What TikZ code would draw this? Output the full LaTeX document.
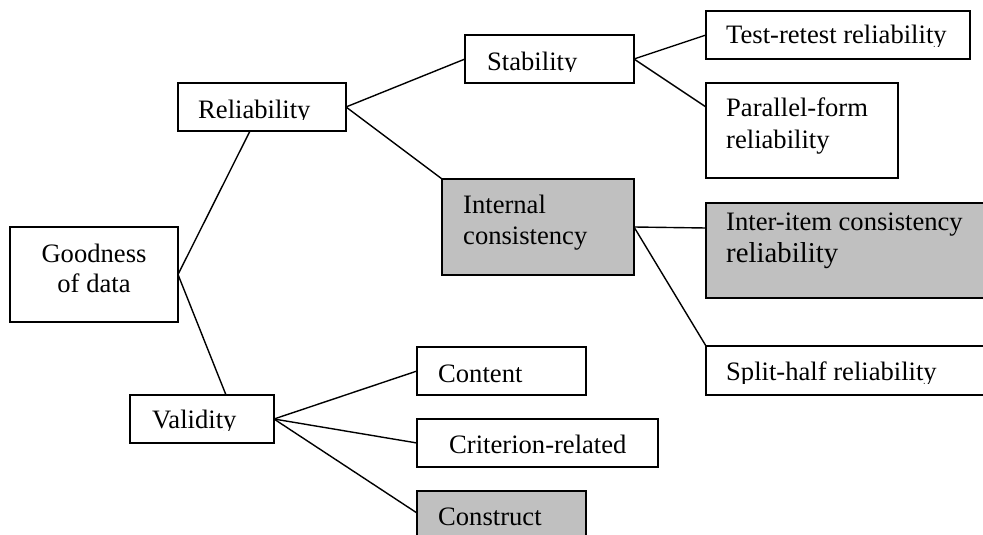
\documentclass[tikz,border=0pt]{standalone}
\usepackage{fontspec}
\setmainfont{Liberation Serif}
\definecolor{boxgray}{HTML}{C0C0C0}

% label whose descenders are cut just below the baseline:
% name, x, baseline y, cut y, text
\newcommand{\cutlabel}[5]{%
  \begin{scope}
    \clip (#2-5,#3-40) rectangle (#2+400,#4);
    \node[lbl] (#1) at (#2,#3) {#5};
  \end{scope}}

\begin{document}
\begin{tikzpicture}[x=1pt,y=-1pt,
  box/.style={draw=black, line width=2pt, rectangle, inner sep=0pt,
    outer sep=0pt, anchor=north west},
  shaded/.style={box, fill=boxgray},
  lbl/.style={inner sep=0pt, anchor=base west,
    font=\fontsize{26.6}{30.6}\selectfont, text=black},
  link/.style={draw=black, line width=1.4pt}]
\useasboundingbox (0,0) rectangle (983,535);
\clip (0,0) rectangle (983,535);

% boxes
\node[box, minimum width=168pt, minimum height=95pt] (good) at (10,227) {};
\node[box, minimum width=168pt, minimum height=48pt] (rel) at (178,83) {};
\node[box, minimum width=144pt, minimum height=48pt] (val) at (130,395) {};
\node[box, minimum width=169pt, minimum height=48pt] (stab) at (465,35) {};
\node[shaded, minimum width=192pt, minimum height=96pt] (int) at (442,179) {};
\node[box, minimum width=264pt, minimum height=48pt] (test) at (706,11) {};
\node[box, minimum width=192pt, minimum height=95pt] (par) at (706,83) {};
\node[shaded, minimum width=284pt, minimum height=95pt] (inter) at (706,203) {};
\node[box, minimum width=284pt, minimum height=49pt] (split) at (706,346) {};
\node[box, minimum width=169pt, minimum height=48pt] (cont) at (417,347) {};
\node[box, minimum width=241pt, minimum height=48pt] (crit) at (417,419) {};
\node[shaded, minimum width=169pt, minimum height=70pt] (cons) at (417,491) {};

% connectors
\draw[link] (good.east) -- ([xshift=-12pt]rel.south);
\draw[link] (good.east) -- ([xshift=24pt]val.north);
\draw[link] (rel.east) -- (stab.west);
\draw[link] (rel.east) -- (int.north west);
\draw[link] (stab.east) -- (test.west);
\draw[link] (stab.east) -- ([yshift=-24pt]par.north west);
\draw[link] (int.east) -- ([yshift=-25pt]inter.north west);
\draw[link] (int.east) -- (split.north west);
\draw[link] (val.east) -- (cont.west);
\draw[link] (val.east) -- (crit.west);
\draw[link] (val.east) -- ([yshift=-22pt]cons.north west);

% labels
\node[lbl, anchor=base] (goodA) at (94,262) {Goodness};
\node[lbl, anchor=base] (goodB) at (94,292) {of data};
\cutlabel{relT}{198}{118}{119.5}{Reliability}
\cutlabel{stabT}{487}{70.5}{72}{Stability}
\cutlabel{testT}{726}{44}{46.7}{Test-retest reliability}
\node[lbl] (parA) at (726,117) {Parallel-form};
\node[lbl] (parB) at (726,148) {reliability};
\node[lbl] (intA) at (463,213) {Internal};
\node[lbl] (intB) at (463,244) {consistency};
\node[lbl] (interA) at (726,230) {Inter-item consistency};
\node[lbl, font=\fontsize{28.8}{33}\selectfont] (interB) at (726,262) {reliability};
\cutlabel{splitT}{726}{380.5}{383}{Split-half reliability}
\node[lbl] (contT) at (438,382) {Content};
\cutlabel{critT}{449}{453.5}{455}{Criterion-related}
\node[lbl] (consT) at (438,525) {Construct};
\cutlabel{valT}{152}{428}{430}{Validity}
\end{tikzpicture}
\end{document}
